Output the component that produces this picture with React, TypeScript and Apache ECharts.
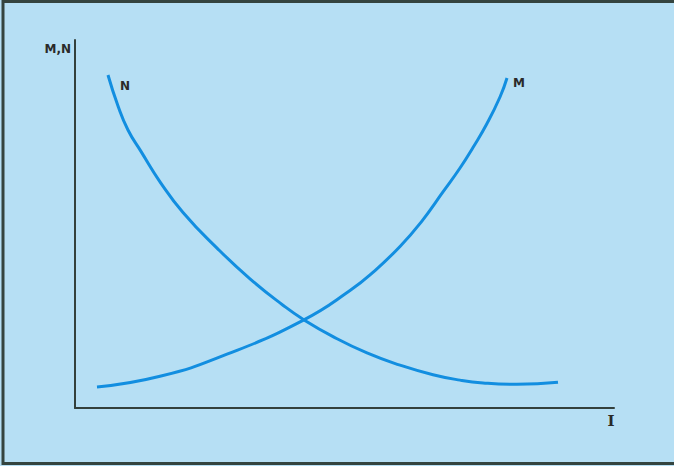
import React, { useEffect, useRef } from "react";
import * as echarts from "echarts";

// Curve N (falls as I rises)
const nI = [6.12, 7.98, 9.83, 12.24, 15.77, 20.04, 26.35, 32.47, 38.59, 42.3, 47.87, 54.17, 60.3, 66.42, 71.43, 75.7, 82.0, 89.61];
const nVal = [90.49, 82.07, 75.54, 69.73, 61.47, 53.15, 43.45, 35.11, 27.93, 24.13, 19.4, 14.97, 11.66, 9.05, 7.58, 6.82, 6.44, 7.01];

// Curve M (rises as I rises)
const mI = [4.08, 15.77, 28.2, 42.3, 51.02, 55.66, 60.3, 64.19, 68.27, 71.43, 73.84, 76.44, 78.85, 80.15];
const mVal = [5.71, 8.61, 14.62, 23.83, 31.93, 37.36, 43.89, 50.46, 58.7, 65.22, 70.79, 77.31, 84.51, 89.67];

const yAxisName = "M,N";
const xAxisName = "I";
const nName = "N";
const mName = "M";

const pairs = (xs: number[], ys: number[]) => xs.map((x, i) => [x, ys[i]]);

export default function App() {
  const ref = useRef<HTMLDivElement>(null);
  useEffect(() => {
    if (!ref.current) return;
    const chart = echarts.init(ref.current, null, { renderer: "svg" });
    const lineColor = "#128ee0";
    const axisColor = "#33403c";
    const textColor = "#2a2a2a";
    const sans = "DejaVu Sans";
    chart.setOption({
      animation: false,
      backgroundColor: "#b6dff4",
      grid: { left: 75, right: 60, top: 40, bottom: 58 },
      xAxis: {
        type: "value",
        min: 0,
        max: 100,
        axisLine: { show: true, onZero: false, lineStyle: { color: axisColor, width: 2 } },
        axisTick: { show: false },
        axisLabel: { show: false },
        splitLine: { show: false },
      },
      yAxis: {
        type: "value",
        min: 0,
        max: 100,
        axisLine: { show: true, onZero: false, lineStyle: { color: axisColor, width: 2 } },
        axisTick: { show: false },
        axisLabel: { show: false },
        splitLine: { show: false },
      },
      series: [
        {
          name: nName,
          type: "line",
          data: pairs(nI, nVal),
          smooth: 0.5,
          showSymbol: false,
          lineStyle: { color: lineColor, width: 3 },
        },
        {
          name: mName,
          type: "line",
          data: pairs(mI, mVal),
          smooth: 0.5,
          showSymbol: false,
          lineStyle: { color: lineColor, width: 3 },
        },
      ],
      graphic: [
        {
          type: "rect",
          shape: { x: 3, y: 1.5, width: 700, height: 462 },
          style: { fill: "none", stroke: "#34443f", lineWidth: 3 },
          silent: true,
        },
        {
          type: "text",
          x: 71,
          y: 49,
          style: {
            text: yAxisName,
            font: `bold 12px "${sans}"`,
            fill: textColor,
            align: "right",
            verticalAlign: "middle",
          },
        },
        {
          type: "text",
          x: 611,
          y: 421,
          style: {
            text: xAxisName,
            font: 'bold 15px "DejaVu Serif"',
            fill: textColor,
            align: "center",
            verticalAlign: "middle",
          },
        },
        {
          type: "text",
          x: 125,
          y: 86,
          style: {
            text: nName,
            font: `bold 12px "${sans}"`,
            fill: textColor,
            align: "center",
            verticalAlign: "middle",
          },
        },
        {
          type: "text",
          x: 519,
          y: 83,
          style: {
            text: mName,
            font: `bold 12px "${sans}"`,
            fill: textColor,
            align: "center",
            verticalAlign: "middle",
          },
        },
      ],
    });
    return () => chart.dispose();
  }, []);
  return (
    <div
      ref={ref}
      style={{ position: "fixed", left: 0, top: 0, width: 674, height: 466 }}
    />
  );
}
